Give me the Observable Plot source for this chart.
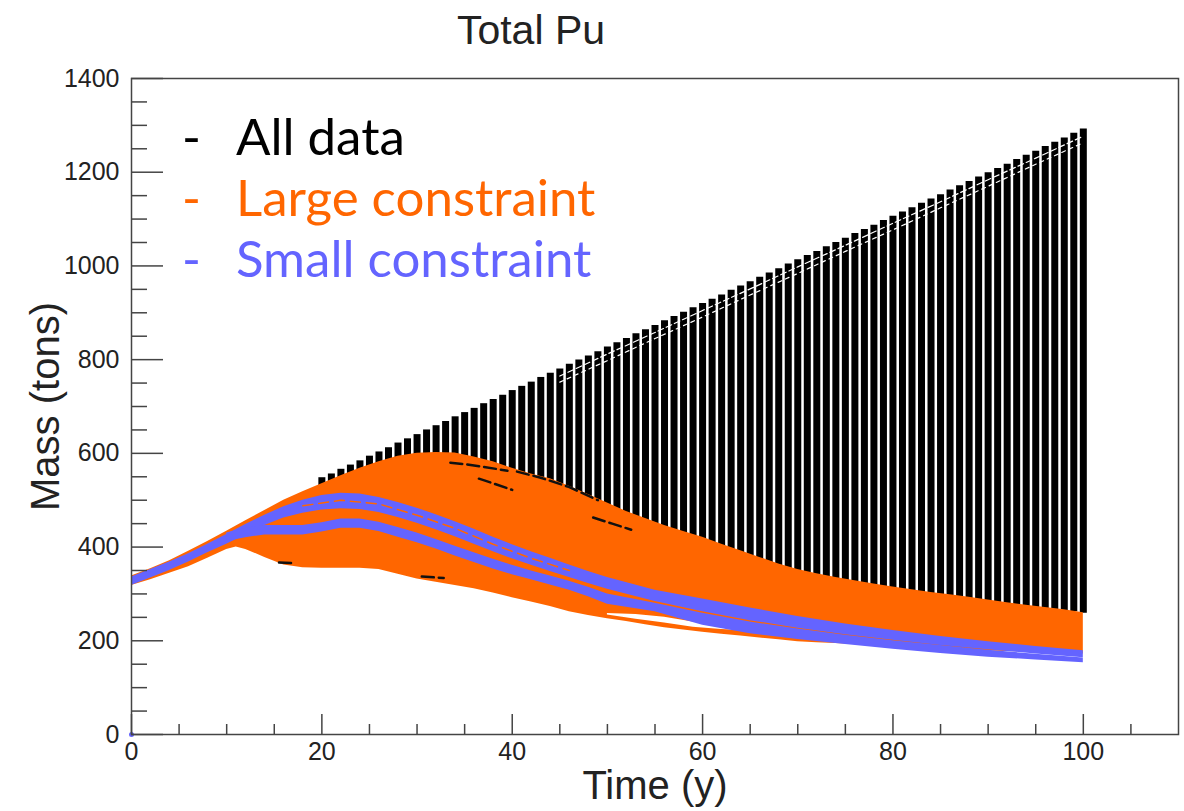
<!DOCTYPE html>
<html>
<head>
<meta charset="utf-8">
<script src="https://cdn.jsdelivr.net/npm/d3@7"></script>
<script src="https://cdn.jsdelivr.net/npm/@observablehq/plot@0.6"></script>
<style>
  body { margin: 0; background: #fff; }
  #wrap { position: relative; width: 1184px; height: 811px; overflow: hidden; }
  #title { height: 60px; position: relative; }
  #title span { position: absolute; left: 0; top: 10px; width: 1062px; text-align: center;
    font: 41px "Liberation Sans", Arial, sans-serif; line-height: 41px; color: #222; }
  .leg { position: absolute; font-family: Lato, "Open Sans", sans-serif; font-weight: 400; font-size: 51px;
    line-height: 61px; white-space: nowrap; }
</style>
</head>
<body>
<div id="wrap">
  <div id="title"><span>Total Pu</span></div>
  <div id="chart"></div>
  <div id="legend"></div>
</div>
<script>
// ---- All data: per-year envelope of every run (years 20..100) ----
const allYears = d3.range(20, 101);
const allMax = [548,556,566,575,584,594,603,612,622,631,640,650,659,668,678,687,696,706,715,724,
  734,743,752,762,771,780,790,799,808,817,827,836,845,855,864,873,883,892,901,911,
  920,929,938,948,957,966,976,985,994,1004,1013,1022,1031,1041,1050,1059,1069,1078,1087,1097,
  1106,1115,1124,1134,1143,1152,1162,1171,1180,1190,1199,1208,1217,1227,1236,1245,1255,1264,1273,1283,1292];
const allMin = [505,513,522,530,538,545,552,558,564,568,570,571,572,572,571,567,562,557,552,545,
  538,532,526,521,516,508,500,491,482,473,464,455,446,438,431,424,416,410,403,397,
  391,383,376,369,362,355,348,341,334,328,322,317,313,309,305,301,298,295,291,288,
  285,282,279,276,273,271,268,266,263,261,257,254,251,249,246,244,241,239,236,262,259];

// separations between neighbouring runs near the top of the envelope
const topGapT = [45,50,55,60,65,70,75,80,85,90,95,100];
const topGapA = [765,812,858,905,951,998,1044,1091,1137,1184,1230,1277];
const topGapB = [752,798,845,891,938,984,1031,1077,1124,1170,1217,1263];

// ---- Large constraint band ----
const largeT   = [0,2,4,6,8,10,11,12,14,16,18,20,22,24,26,28,30,32,34,36,38,40,42,44,46,48,50,52,54,56,58,60,62,64,66,68,70,72,74,76,78,80,82,84,86,88,90,92,94,96,98,100];
const largeMax = [338,354,371,391,412,434,445,456,478,500,518,535,552,568,582,594,600,602,601,592,582,568,556,546,530,512,494,476,461,446,433,421,406,392,378,364,352,343,335,328,321,315,309,303,298,293,287,281,276,271,266,260];
const largeMin = [318,330,344,358,376,395,400,395,378,362,356,355,355,355,352,342,332,325,318,311,302,292,283,273,262,254,247,241,234,228,223,218,214,210,206,202,198,196,194,192,190,188,186,184,182,180,178,177,176,175,174,172];

// empty strip between the lowest large-constraint runs
const lowGapT  = [50,53,56,59,62,65];
const lowGapHi = [258,256,250,240,231,224];
const lowGapLo = [255,246,238,229,224,221];

// runs of the full set showing through the large-constraint band
const holeSeries = [
  {t: [33.5,35,37,39.5], v: [580,577,571,563]},
  {t: [40.5,43,46,49],   v: [561,548,528,500]},
  {t: [36.5,38,40],      v: [546,536,522]},
  {t: [48.5,50.5,52.5],  v: [463,450,437]},
  {t: [15.5,16.8],       v: [367,366]},
  {t: [30.5,32.8],       v: [337,334]}
];

// ---- Small constraint: two bundles of runs ----
const upperT  = [0,2,4,6,8,10,12,14,16,18,20,22,24,26,28,30,32,34,36,38,40,42,44,46,48,50,55,60,65,70,75,80,85,90,95,100];
const upperHi = [336,352,368,386,406,427,448,468,486,500,510,515,513,506,495,483,469,454,438,421,405,390,376,362,348,335,308,289,270,252,236,222,209,198,188,179];
const upperLo = [318,334,350,368,388,406,426,446,462,472,479,482,480,474,463,451,437,422,406,390,375,361,348,335,322,310,284,262,243,227,213,201,190,181,172,164];
const lowerT  = [10,12,14,16,18,20,22,24,26,28,30,32,34,36,38,40,42,44,46,48,50,55,60,65,70,75,80,85,90,95,100];
const lowerHi = [430,440,446,446,446,452,460,460,453,442,430,416,402,388,374,361,349,338,327,314,300,280,259,240,225,212,200,190,180,171,163];
const lowerLo = [412,420,426,426,426,432,440,440,433,421,409,396,381,367,353,341,330,319,308,294,278,262,233,215,203,192,182,173,165,159,153];
// large-constraint run threading the upper bundle
const strandT = [18,22,26,30,34,38,42,46];
const strandV = [488,500,492,468,440,406,376,350];
const originT = [0], originV = [0];

// ---- axes ----
const xMajor = [0,20,40,60,80,100];
const xMinor = [5,10,15,25,30,35,45,50,55,65,70,75,85,90,95,105];
const yMajor = [0,200,400,600,800,1000,1200,1400];
const yMinor = d3.range(50, 1400, 50).filter(v => v % 200 !== 0);

const legendItems = [
  {label: "All data", color: "#000000"},
  {label: "Large constraint", color: "#ff6600"},
  {label: "Small constraint", color: "#6464ff"}
];

const ORANGE = "#ff6600", BLUE = "#6464ff";

// tables built from the arrays
const allRows = allYears.map((t, i) => ({t, lo: allMin[i], hi: allMax[i]}));
const topGapRowsA = topGapT.map((t, i) => ({t, v: topGapA[i]}));
const topGapRowsB = topGapT.map((t, i) => ({t, v: topGapB[i]}));
const largeRows = largeT.map((t, i) => ({t, lo: largeMin[i], hi: largeMax[i]}));
const lowGapRows = lowGapT.map((t, i) => ({t, lo: lowGapLo[i], hi: lowGapHi[i]}));
const holeRows = holeSeries.flatMap((s, k) => s.t.map((t, i) => ({k, t, v: s.v[i]})));
const upperRows = upperT.map((t, i) => ({t, lo: upperLo[i], hi: upperHi[i]}));
const lowerRows = lowerT.map((t, i) => ({t, lo: lowerLo[i], hi: lowerHi[i]}));
const strandRows = strandT.map((t, i) => ({t, v: strandV[i]}));
const originRows = originT.map((t, i) => ({t, v: originV[i]}));

const frameW = 1184 - 131 - 6;   // inner plot width
const frameH = 751 - 18 - 77;    // inner plot height

const chart = Plot.plot({
  width: 1184,
  height: 751,
  marginLeft: 131,
  marginRight: 6,
  marginTop: 18,
  marginBottom: 77,
  x: {domain: [0, 110]},
  y: {domain: [0, 1400]},
  style: {fontFamily: '"Liberation Sans", Arial, sans-serif', fontSize: "25px", color: "#222", background: "#fff"},
  marks: [
    // all runs
    Plot.ruleX(allRows, {x: "t", y1: "lo", y2: "hi", stroke: "#000", strokeWidth: 7}),
    Plot.line(topGapRowsA, {x: "t", y: "v", stroke: "#fff", strokeWidth: 1.2, strokeDasharray: "6,3"}),
    Plot.line(topGapRowsB, {x: "t", y: "v", stroke: "#fff", strokeWidth: 1.2, strokeDasharray: "4,4"}),
    // large constraint
    Plot.areaY(largeRows, {x: "t", y1: "lo", y2: "hi", fill: ORANGE}),
    Plot.areaY(lowGapRows, {x: "t", y1: "lo", y2: "hi", fill: "#fff"}),
    Plot.line(holeRows, {x: "t", y: "v", z: "k", stroke: "#111", strokeWidth: 2.5, strokeDasharray: "12,5"}),
    // small constraint
    Plot.areaY(upperRows, {x: "t", y1: "lo", y2: "hi", fill: BLUE}),
    Plot.areaY(lowerRows, {x: "t", y1: "lo", y2: "hi", fill: BLUE}),
    Plot.line(strandRows, {x: "t", y: "v", stroke: ORANGE, strokeWidth: 1.5, strokeDasharray: "10,6"}),
    Plot.dot(originRows, {x: "t", y: "v", r: 2.5, fill: BLUE}),
    // inward ticks
    Plot.tickY(yMajor, {y: d => d, insetRight: frameW - 32, stroke: "#444", strokeWidth: 1.5}),
    Plot.tickY(yMinor, {y: d => d, insetRight: frameW - 16, stroke: "#444", strokeWidth: 1.5}),
    Plot.tickX(xMajor, {x: d => d, insetTop: frameH - 20, stroke: "#444", strokeWidth: 1.5}),
    Plot.tickX(xMinor, {x: d => d, insetTop: frameH - 10, stroke: "#444", strokeWidth: 1.5}),
    Plot.frame({stroke: "#444", strokeWidth: 1.5}),
    Plot.axisY({ticks: yMajor, tickSize: 0, tickPadding: 12, tickFormat: "d", label: null, fontSize: 25}),
    Plot.axisX({ticks: xMajor, tickSize: 0, tickPadding: 8, tickFormat: "d", label: null, fontSize: 25}),
    Plot.text(["Time (y)"], {frameAnchor: "bottom", lineAnchor: "middle", textAnchor: "middle", dy: 52, fontSize: 40, fill: "#222"}),
    Plot.text(["Mass (tons)"], {frameAnchor: "left", lineAnchor: "middle", textAnchor: "middle", dx: -85, rotate: -90, fontSize: 40, fill: "#222"})
  ]
});
document.getElementById("chart").appendChild(chart);

// legend drawn over the upper-left part of the plot
const legend = document.getElementById("legend");
legendItems.forEach((d, i) => {
  const top = 105 + i * 61;
  const dash = document.createElement("div");
  dash.className = "leg";
  dash.style.left = "182px";
  dash.style.top = top + "px";
  dash.style.color = d.color;
  dash.textContent = "-";
  const txt = document.createElement("div");
  txt.className = "leg";
  txt.style.left = "236px";
  txt.style.top = top + "px";
  txt.style.color = d.color;
  txt.textContent = d.label;
  legend.appendChild(dash);
  legend.appendChild(txt);
});
</script>
</body>
</html>
